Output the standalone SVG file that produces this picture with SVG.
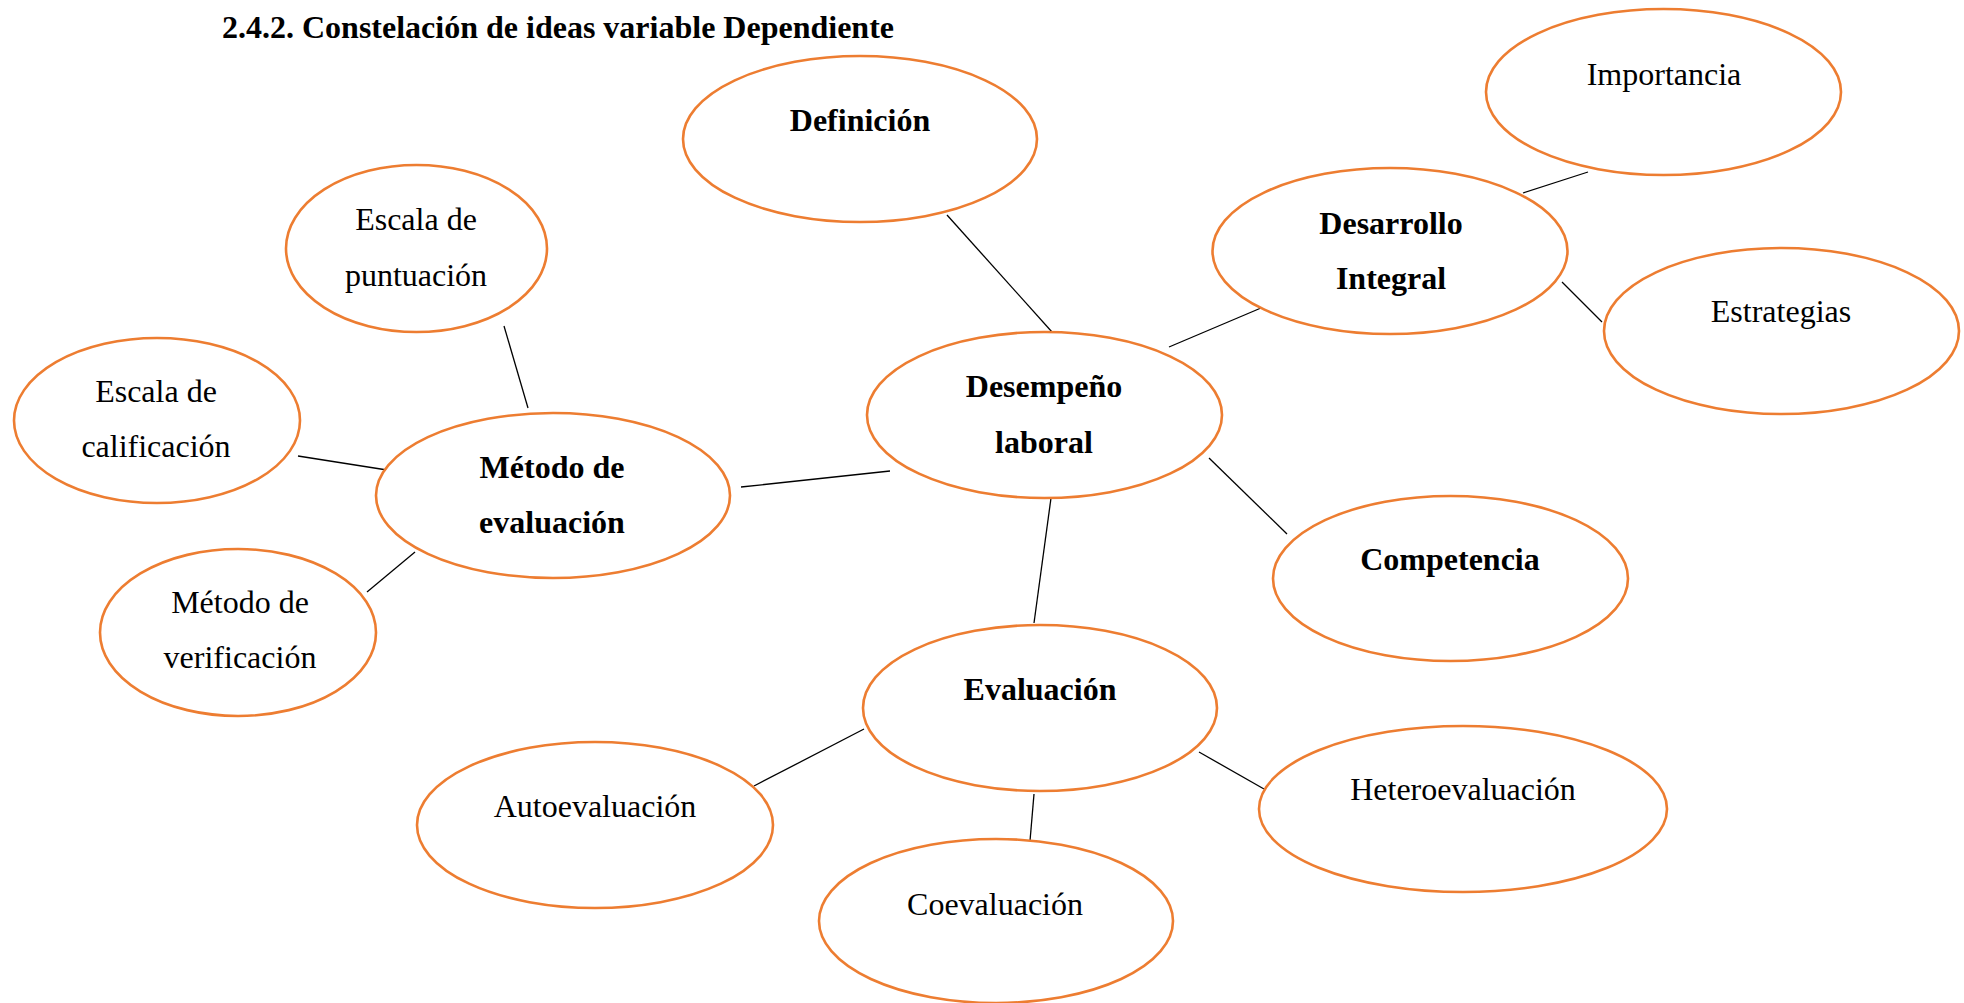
<svg xmlns="http://www.w3.org/2000/svg" width="1964" height="1003" viewBox="0 0 1964 1003">
<style>
.n{fill:#fff;stroke:#ED7D31;stroke-width:2.6}
.t{font-family:"Liberation Serif","Times New Roman",serif;font-size:32px;fill:#000;text-anchor:middle}
.b{font-weight:bold}
.c line{stroke:#000;stroke-width:1.3}
</style>
<rect width="1964" height="1003" fill="#fff"/>
<text x="222" y="38" font-family="Liberation Serif, Times New Roman, serif" font-size="32" font-weight="bold">2.4.2. Constelación de ideas variable Dependiente</text>
<g class="c" id="connectors">
<line x1="947" y1="215" x2="1052" y2="332"/>
<line x1="1169" y1="347" x2="1261" y2="308"/>
<line x1="1523" y1="193" x2="1588" y2="172"/>
<line x1="1562" y1="282" x2="1602" y2="322"/>
<line x1="504" y1="326" x2="528" y2="408"/>
<line x1="298" y1="456" x2="387" y2="470"/>
<line x1="367" y1="592" x2="415" y2="552"/>
<line x1="741" y1="487" x2="890" y2="471"/>
<line x1="1209" y1="458" x2="1287" y2="534"/>
<line x1="1051" y1="498" x2="1034" y2="623"/>
<line x1="864" y1="729" x2="754" y2="786"/>
<line x1="1199" y1="752" x2="1264" y2="789"/>
<line x1="1034" y1="794" x2="1030" y2="841"/>
</g>
<g id="definicion"><ellipse class="n" cx="860" cy="139" rx="177" ry="83"/><text class="t b" x="860" y="131">Definición</text></g>
<g id="importancia"><ellipse class="n" cx="1663.5" cy="92" rx="177.5" ry="83"/><text class="t" x="1664" y="85">Importancia</text></g>
<g id="desarrollo"><ellipse class="n" cx="1390" cy="251" rx="177.5" ry="83"/><text class="t b" x="1391" y="234">Desarrollo</text><text class="t b" x="1391" y="289">Integral</text></g>
<g id="estrategias"><ellipse class="n" cx="1781.5" cy="331" rx="177.5" ry="83"/><text class="t" x="1781" y="322">Estrategias</text></g>
<g id="desempeno"><ellipse class="n" cx="1044.5" cy="415" rx="177.5" ry="83"/><text class="t b" x="1044" y="397">Desempeño</text><text class="t b" x="1044" y="453">laboral</text></g>
<g id="escala-puntuacion"><ellipse class="n" cx="416.5" cy="248.5" rx="130.5" ry="83.5"/><text class="t" x="416" y="230">Escala de</text><text class="t" x="416" y="286">puntuación</text></g>
<g id="escala-calificacion"><ellipse class="n" cx="157" cy="420.5" rx="143" ry="82.5"/><text class="t" x="156" y="402">Escala de</text><text class="t" x="156" y="457">calificación</text></g>
<g id="metodo-evaluacion"><ellipse class="n" cx="553" cy="495.5" rx="177" ry="82.5"/><text class="t b" x="552" y="478">Método de</text><text class="t b" x="552" y="533">evaluación</text></g>
<g id="metodo-verificacion"><ellipse class="n" cx="238" cy="632.5" rx="138" ry="83.5"/><text class="t" x="240" y="613">Método de</text><text class="t" x="240" y="668">verificación</text></g>
<g id="competencia"><ellipse class="n" cx="1450.5" cy="578.5" rx="177.5" ry="82.5"/><text class="t b" x="1450" y="570">Competencia</text></g>
<g id="evaluacion"><ellipse class="n" cx="1040" cy="708" rx="177" ry="83"/><text class="t b" x="1040" y="700">Evaluación</text></g>
<g id="heteroevaluacion"><ellipse class="n" cx="1463" cy="809" rx="204" ry="83"/><text class="t" x="1463" y="800">Heteroevaluación</text></g>
<g id="coevaluacion"><ellipse class="n" cx="996" cy="921" rx="177" ry="82"/><text class="t" x="995" y="915">Coevaluación</text></g>
<g id="autoevaluacion"><ellipse class="n" cx="595" cy="825" rx="178" ry="83"/><text class="t" x="595" y="817">Autoevaluación</text></g>
</svg>
